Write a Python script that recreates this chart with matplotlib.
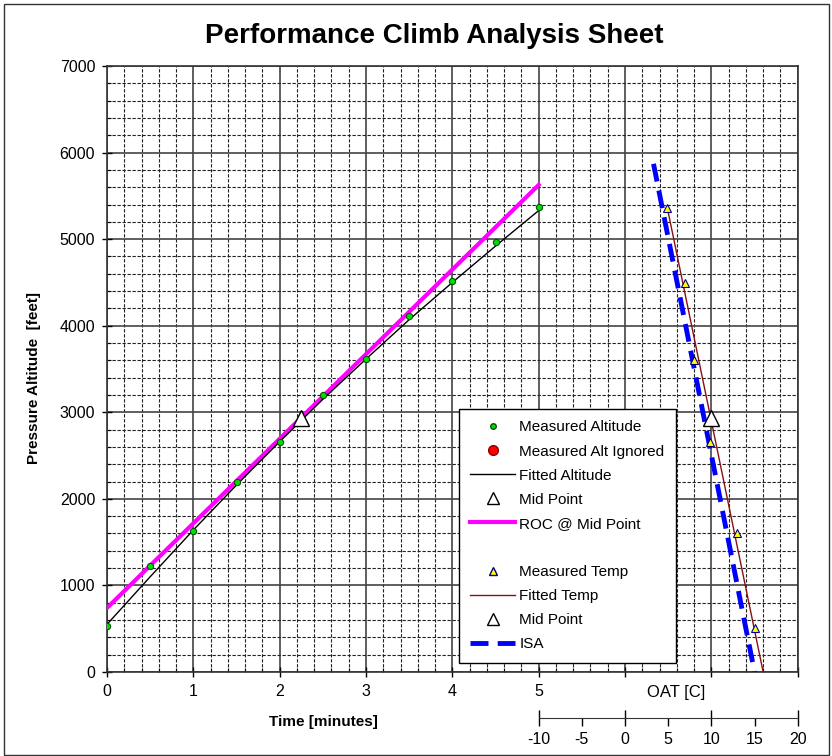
import matplotlib
matplotlib.use("Agg")
import matplotlib.pyplot as plt
import numpy as np
from matplotlib.lines import Line2D
from matplotlib.patches import Rectangle
from matplotlib.ticker import MultipleLocator

plt.rcParams['font.family'] = ['Liberation Sans', 'DejaVu Sans']

# altitude vs time
time_min = [0, 0.5, 1, 1.5, 2, 2.5, 3, 3.5, 4, 4.5, 5]
alt_meas = [531, 1224, 1628, 2190, 2660, 3200, 3620, 4116, 4520, 4971, 5368]
alt_fit = [550, 1100, 1640, 2160, 2660, 3150, 3615, 4070, 4500, 4920, 5330]
mid_time = 2.25
mid_alt = 2930
roc_time = [0, 5]
roc_alt = [740, 5626]

# temperature vs altitude
temp_alt = [5360, 4497, 3604, 2660, 1609, 505]
temp_oat = [4.9, 6.9, 8.0, 9.9, 13.0, 15.0]
tfit_alt = [0, 5360]
tfit_oat = [16.0, 4.9]
tmid_oat = 10.0
tmid_alt = 2930
isa_alt = [5870, 0]
isa_oat = [3.3, 15.0]


def oat_to_t(c):
    # OAT scale sits on the time axis: -10 C at 5 min, 20 C at 8 min
    return 6 + np.asarray(c) / 10.0


fig = plt.figure(figsize=(8.32, 7.56), dpi=100)
ax = fig.add_axes([107/832, 1-672/756, 690.7/832, 606/756])

ax.set_xlim(0, 8)
ax.set_ylim(0, 7000)
ax.xaxis.set_major_locator(MultipleLocator(1))
ax.xaxis.set_minor_locator(MultipleLocator(0.2))
ax.yaxis.set_major_locator(MultipleLocator(1000))
ax.yaxis.set_minor_locator(MultipleLocator(200))
ax.set_xticks(range(9), ['0', '1', '2', '3', '4', '5', '', '', ''])
ax.tick_params(which='major', direction='inout', length=7, width=1, labelsize=11.5, pad=5)
ax.tick_params(which='minor', direction='in', length=3, width=0.8)
ax.grid(which='major', color='#444444', lw=1.2)
ax.grid(which='minor', color='#222222', lw=0.8, ls=(0, (3, 1.5)))
ax.set_axisbelow(True)
for s in ax.spines.values():
    s.set_color('#333333')
    s.set_linewidth(1.2)

ax.plot(roc_time, roc_alt, color='#FF00FF', lw=3, zorder=3)
ax.plot(time_min, alt_fit, color='black', lw=1, zorder=4)
ax.plot(time_min, alt_meas, ls='none', marker='o', ms=4.5, mfc='#00DD00', mec='#005500', mew=0.8, zorder=5)
ax.plot([mid_time], [mid_alt], ls='none', marker='^', ms=12, mfc='white', mec='black', mew=1, zorder=6)

ax.plot(oat_to_t(isa_oat), isa_alt, color='#0000FF', lw=3.5, ls=(0, (3.7, 1.9)), zorder=3)
ax.plot(oat_to_t(tfit_oat), tfit_alt, color='#8B1010', lw=1, zorder=4)
ax.plot(oat_to_t(temp_oat), temp_alt, ls='none', marker='^', ms=6, mfc='#FFFF00', mec='#000080', mew=0.8, zorder=5)
ax.plot(oat_to_t([tmid_oat]), [tmid_alt], ls='none', marker='^', ms=12, mfc='white', mec='black', mew=1, zorder=6)

ax.set_xlabel('Time [minutes]', fontsize=11, fontweight='bold')
ax.xaxis.set_label_coords(323/832, 1-715/756, transform=fig.transFigure)
ax.set_ylabel('Pressure Altitude  [feet]', fontsize=11, fontweight='bold')
ax.yaxis.set_label_coords(41/832, 0.5, transform=fig.transFigure)

handles = [
    Line2D([], [], ls='none', marker='o', ms=4, mfc='#00DD00', mec='#005500', label='Measured Altitude'),
    Line2D([], [], ls='none', marker='o', ms=7, mfc='#FF0000', mec='#880000', label='Measured Alt Ignored'),
    Line2D([], [], color='black', lw=1, label='Fitted Altitude'),
    Line2D([], [], ls='none', marker='^', ms=8, mfc='white', mec='black', label='Mid Point'),
    Line2D([], [], color='#FF00FF', lw=3, label='ROC @ Mid Point'),
    Line2D([], [], ls='none', label=' '),
    Line2D([], [], ls='none', marker='^', ms=6, mfc='#FFFF00', mec='#000080', label='Measured Temp'),
    Line2D([], [], color='#8B1010', lw=1, label='Fitted Temp'),
    Line2D([], [], ls='none', marker='^', ms=8, mfc='white', mec='black', label='Mid Point'),
    Line2D([], [], color='#0000FF', lw=3.5, ls=(0, (3.7, 1.9)), label='ISA'),
]
leg = ax.legend(handles=handles, loc='upper left', bbox_to_anchor=((459-107)/690.7, (672-409)/606),
                borderaxespad=0, fontsize=11, frameon=True, fancybox=False, framealpha=1,
                edgecolor='black', labelspacing=0.66, handlelength=2.9, handletextpad=0.3,
                borderpad=0.75)
leg.get_frame().set_linewidth(1)
leg.set_zorder(10)

# separate OAT scale under the right part of the chart
ax2 = fig.add_axes([538.7/832, 1-717.7/756, 259/832, 0.0001])
ax2.set_xlim(-10, 20)
ax2.set_ylim(0, 1)
ax2.patch.set_visible(False)
for k in ['top', 'left', 'right']:
    ax2.spines[k].set_visible(False)
ax2.spines['bottom'].set_color('#333333')
ax2.set_yticks([])
ax2.set_xticks([-10, 0, 10, 20], ['-10', '0', '10', '20'])
ax2.set_xticks([-5, 5, 15], ['-5', '5', '15'], minor=True)
ax2.tick_params(which='major', direction='inout', length=12, width=1, labelsize=11.5, pad=4)
ax2.tick_params(which='minor', direction='out', length=6, width=1, labelsize=11.5, pad=4)
fig.text(676/832, 1-693/756, 'OAT [C]', fontsize=12, ha='center', va='center')

fig.text(434/832, 1-36/756, 'Performance Climb Analysis Sheet', fontsize=20,
         fontweight='bold', ha='center', va='center')

fig.add_artist(Rectangle((4/832, 1/756), 825/832, 751/756, transform=fig.transFigure,
                         fill=False, edgecolor='#333333', lw=1))

fig.savefig('out.png', dpi=100)
